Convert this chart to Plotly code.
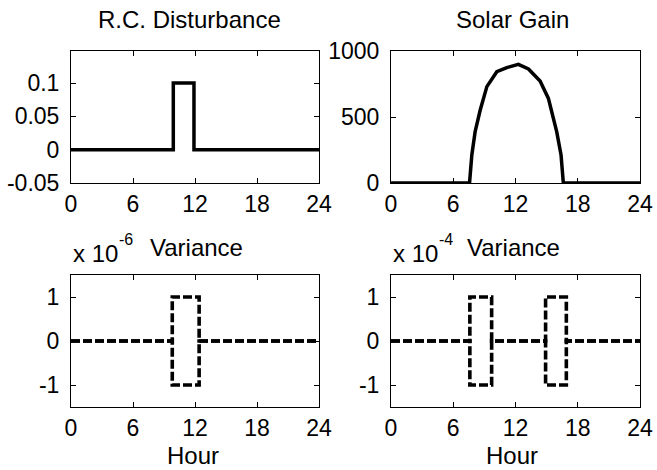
import plotly.graph_objects as go

W, H = 657, 470

# ---- data ----
hours_tick = [0, 6, 12, 18, 24]

rc_hours = [0, 9.9, 9.9, 11.9, 11.9, 24]
rc_values = [0, 0, 0.1, 0.1, 0, 0]

solar_hours = [0, 7.57, 7.79, 8.11, 8.6, 9.24, 10.2, 11.16, 12.28, 13.25, 14.37,
               15.17, 15.97, 16.39, 16.61, 24]
solar_values = [0, 0, 212, 389, 553, 730, 843, 874, 899, 864, 773,
                641, 389, 212, 0, 0]

var1_hours = [0, 9.8, 9.8, 12.4, 12.4, 24]
var1_upper = [0, 0, 1, 1, 0, 0]
var1_lower = [0, 0, -1, -1, 0, 0]

var2_hours = [0, 7.6, 7.6, 9.7, 9.7, 14.9, 14.9, 16.9, 16.9, 24]
var2_upper = [0, 0, 1, 1, 0, 0, 1, 1, 0, 0]
var2_lower = [0, 0, -1, -1, 0, 0, -1, -1, 0, 0]

titles = ["R.C. Disturbance", "Solar Gain"]
var_exponents = ["-6", "-4"]
xlabel = "Hour"

FONT = "Liberation Sans, Arial, sans-serif"
FS = 24

# ---- layout boxes in pixels (left, right, top, bottom) ----
boxes = {
    1: (71, 319, 51, 183),
    2: (391, 640, 51, 183),
    3: (71, 319, 275, 407),
    4: (391, 640, 275, 407),
}


def px_x(v):
    return v / W


def px_y(v):
    return 1 - v / H


fig = go.Figure()

solid = dict(color="black", width=3.5)
dashed = dict(color="black", width=3.6, dash="9px,3px")

fig.add_trace(go.Scatter(x=rc_hours, y=rc_values, mode="lines", line=solid,
                         xaxis="x", yaxis="y"))
fig.add_trace(go.Scatter(x=solar_hours, y=solar_values, mode="lines", line=solid,
                         xaxis="x2", yaxis="y2"))
fig.add_trace(go.Scatter(x=var1_hours, y=var1_upper, mode="lines", line=dashed,
                         xaxis="x3", yaxis="y3"))
fig.add_trace(go.Scatter(x=var1_hours, y=var1_lower, mode="lines", line=dashed,
                         xaxis="x3", yaxis="y3"))
fig.add_trace(go.Scatter(x=var2_hours, y=var2_upper, mode="lines", line=dashed,
                         xaxis="x4", yaxis="y4"))
fig.add_trace(go.Scatter(x=var2_hours, y=var2_lower, mode="lines", line=dashed,
                         xaxis="x4", yaxis="y4"))

axis_common = dict(showline=True, linecolor="black", linewidth=1, mirror="ticks",
                   ticks="inside", ticklen=5, tickcolor="black", tickwidth=1,
                   showgrid=False, zeroline=False, automargin=False,
                   tickfont=dict(family=FONT, size=FS - 1, color="black"))

yranges = {1: [-0.05, 0.148], 2: [0, 1000], 3: [-1.5, 1.5], 4: [-1.5, 1.5]}
yticks = {1: ([-0.05, 0, 0.05, 0.1], ["-0.05", "0", "0.05", "0.1"]),
          2: ([0, 500, 1000], ["0", "500", "1000"]),
          3: ([-1, 0, 1], ["-1", "0", "1"]),
          4: ([-1, 0, 1], ["-1", "0", "1"])}

layout = dict(width=W, height=H, margin=dict(l=0, r=0, t=0, b=0, pad=0),
              template="none",
              paper_bgcolor="white", plot_bgcolor="white", showlegend=False)

for i, (l, r, t, b) in boxes.items():
    sx = "" if i == 1 else str(i)
    layout["xaxis" + sx] = dict(domain=[px_x(l), px_x(r)], range=[0, 24],
                                tickvals=hours_tick,
                                ticktext=[str(h) for h in hours_tick],
                                anchor="y" + sx, **axis_common)
    layout["yaxis" + sx] = dict(domain=[px_y(b), px_y(t)], range=yranges[i],
                                tickvals=yticks[i][0], ticktext=yticks[i][1],
                                ticklabelstandoff=6,
                                anchor="x" + sx, **axis_common)

fig.update_layout(**layout)

ann = []
tfont = dict(family=FONT, size=FS, color="black")
sfont = dict(family=FONT, size=16, color="black")
# top titles
for txt, cx in [(titles[0], 189), (titles[1], 512)]:
    ann.append(dict(text=txt, x=px_x(cx), y=px_y(20), xref="paper", yref="paper",
                    xanchor="center", yanchor="middle", showarrow=False, font=tfont))
# variance titles with exponent
for (l, r, t, b), ex, cx in [(boxes[3], var_exponents[0], 196),
                              (boxes[4], var_exponents[1], 513)]:
    ann.append(dict(text="Variance", x=px_x(cx), y=px_y(247), xref="paper",
                    yref="paper", xanchor="center", yanchor="middle",
                    showarrow=False, font=tfont))
    ann.append(dict(text="x 10", x=px_x(l + 1), y=px_y(253), xref="paper",
                    yref="paper", xanchor="left", yanchor="middle", borderpad=0,
                    showarrow=False, font=tfont))
    ann.append(dict(text=ex, x=px_x(l + 47), y=px_y(240), xref="paper",
                    yref="paper", xanchor="left", yanchor="middle", borderpad=0,
                    showarrow=False, font=sfont))
# x labels
for cx in [193, 512]:
    ann.append(dict(text=xlabel, x=px_x(cx), y=0, xref="paper",
                    yref="paper", xanchor="center", yanchor="bottom",
                    borderpad=0, showarrow=False, font=tfont))

fig.update_layout(annotations=ann)

fig.write_html("out.html")
